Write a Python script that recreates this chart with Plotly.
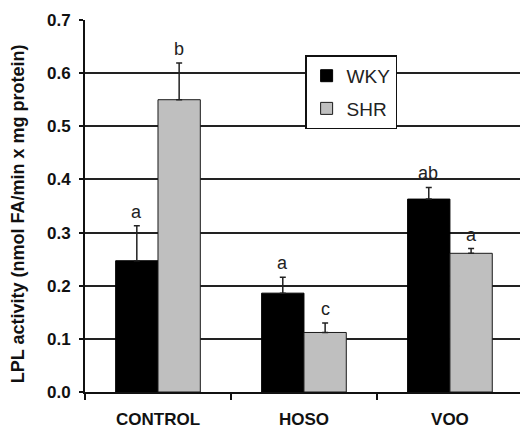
import plotly.graph_objects as go

categories = ["CONTROL", "HOSO", "VOO"]
wky_values = [0.247, 0.186, 0.363]
wky_err = [0.066, 0.030, 0.022]
shr_values = [0.550, 0.112, 0.261]
shr_err = [0.069, 0.018, 0.009]
wky_letters = ["a", "a", "ab"]
shr_letters = ["b", "c", "a"]
y_ticks = [0.0, 0.1, 0.2, 0.3, 0.4, 0.5, 0.6, 0.7]
y_tick_labels = ["0.0", "0.1", "0.2", "0.3", "0.4", "0.5", "0.6", "0.7"]
y_title = "LPL activity (nmol FA/min x mg protein)"

FONT = "Liberation Sans, Arial, sans-serif"

fig = go.Figure()
fig.add_trace(go.Bar(
    name="WKY", x=categories, y=wky_values, legendgroup="g1",
    marker=dict(color="#000000", line=dict(color="#000000", width=1)),
    error_y=dict(type="data", array=wky_err, arrayminus=[0]*3, symmetric=False,
                 color="#222222", thickness=1.5, width=3),
    offsetgroup="wky",
))
fig.add_trace(go.Bar(
    name="SHR", x=categories, y=shr_values, legendgroup="g2",
    marker=dict(color="#bfbfbf", line=dict(color="#1a1a1a", width=1)),
    error_y=dict(type="data", array=shr_err, arrayminus=[0]*3, symmetric=False,
                 color="#222222", thickness=1.5, width=3),
    offsetgroup="shr",
))

annotations = []
for i, c in enumerate(categories):
    annotations.append(dict(x=c, y=wky_values[i] + wky_err[i], text=wky_letters[i],
                            xref="x", yref="y", showarrow=False, yanchor="bottom",
                            xshift=-21.5, yshift=2,
                            font=dict(family=FONT, size=18, color="#222222")))
    annotations.append(dict(x=c, y=shr_values[i] + shr_err[i], text=shr_letters[i],
                            xref="x", yref="y", showarrow=False, yanchor="bottom",
                            xshift=21.5, yshift=2,
                            font=dict(family=FONT, size=18, color="#222222")))
annotations.append(dict(x=-0.154, y=0.478, xref="paper", yref="paper", text=y_title,
                        textangle=-90, showarrow=False, xanchor="center", yanchor="middle",
                        font=dict(family=FONT, size=18, color="#111111", weight="bold")))

fig.update_layout(
    width=520, height=428,
    margin=dict(l=85, r=0, t=20, b=36),
    paper_bgcolor="white", plot_bgcolor="white",
    barmode="group", bargap=0.42, bargroupgap=0,
    font=dict(family=FONT, color="#111111"),
    annotations=annotations,
    legend=dict(
        x=0.506, y=0.905, xanchor="left", yanchor="top",
        bgcolor="white", bordercolor="#111111", borderwidth=1.5,
        font=dict(family=FONT, size=19, color="#222222"),
        traceorder="grouped", tracegroupgap=5,
    ),
    xaxis=dict(
        type="category", range=[-0.5, 2.48], automargin=False,
        showline=True, linecolor="#111111", linewidth=2,
        ticks="outside", ticklen=6, tickwidth=1.5, tickcolor="#111111",
        tickson="boundaries", showgrid=False,
        tickfont=dict(family=FONT, size=17, color="#111111", weight="bold"),
        ticklabelstandoff=11,
    ),
    yaxis=dict(
        range=[0, 0.7], tickvals=y_ticks, ticktext=y_tick_labels, automargin=False,
        showline=True, linecolor="#111111", linewidth=2,
        ticks="outside", ticklen=4, tickwidth=1.5, tickcolor="#111111",
        showgrid=True, gridcolor="#222222", gridwidth=1.5,
        zeroline=False,
        tickfont=dict(family=FONT, size=17, color="#111111", weight="bold"),
        ticklabelstandoff=5,
    ),
)

fig.write_html("out.html", config={"displayModeBar": False},
               post_script="document.body.style.margin='0';")
